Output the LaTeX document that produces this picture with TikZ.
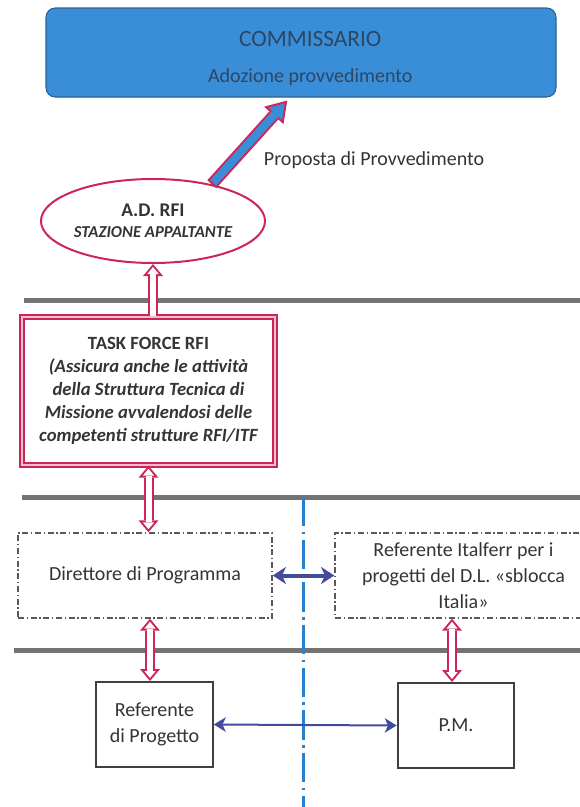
\documentclass[tikz,border=0pt]{standalone}
\usepackage{fontspec}
\setmainfont{Carlito}
\usepackage{tikz}
\usetikzlibrary{arrows, arrows.meta, shapes, positioning, calc}
\definecolor{rfipink}{RGB}{204,38,88}
\definecolor{commblue}{RGB}{58,142,216}
\definecolor{commtext}{RGB}{45,70,100}
\definecolor{linkblue}{RGB}{66,76,158}
\definecolor{axisblue}{RGB}{38,128,210}
\definecolor{txtgray}{RGB}{52,52,52}
\tikzset{
         mycomm/.style={draw=commblue!70!black, fill=commblue, rounded corners=7pt, line width=0.8pt, minimum width=382.5pt, minimum height=66.75pt},
         mycommtxt/.style={text=commtext, align=center, font=\fontsize{15}{27}\selectfont},
         myell/.style={ellipse, draw=rfipink, line width=1.5pt, minimum width=150pt, minimum height=63pt, inner sep=0pt, align=center, text=txtgray, font=\fontsize{14.5}{16}\selectfont\bfseries},
         mytask/.style={draw=rfipink, double=rfipink!30, double distance=2pt, line width=1.1pt, minimum width=189.75pt, minimum height=111pt, align=center, text=txtgray, font=\fontsize{14}{17.25}\selectfont\bfseries},
         mydash/.style={draw=black!65, line width=1.1pt, dash pattern=on 4.5pt off 2pt on 1pt off 2pt, minimum height=63.75pt, align=center, text=txtgray, font=\fontsize{15}{19.5}\selectfont},
         mybox/.style={draw=black!75, line width=1.5pt, minimum width=87.5pt, minimum height=63.75pt, align=center, text=txtgray, font=\fontsize{15}{19}\selectfont},
         mysep/.style={draw=black!55, line width=3.75pt},
         myaxis/.style={draw=axisblue, line width=2.25pt, dash pattern=on 22pt off 4pt on 2pt off 4pt}
      }

\begin{document}
\begin{tikzpicture}[x=0.75pt, y=-0.75pt, thick, >=stealth', auto]
                  \tikzstyle{fat} = [draw=rfipink, line width=9pt, -{Triangle[length=15pt,width=19.5pt,line width=0pt]},
                                     postaction={draw=commblue, line width=6pt, shorten >=2.75pt, shorten <=1.5pt, -{Triangle[length=10.75pt,width=14pt,line width=0pt]}}]
                  \tikzstyle{hollow} = [draw=rfipink, line width=7.5pt, -{Triangle[length=9pt,width=15pt,line width=0pt]},
                                     postaction={draw=white, line width=4.5pt, shorten >=2.3pt, -{Triangle[length=5.2pt,width=8.6pt,line width=0pt]}}]
                  \tikzstyle{hollowboth} = [draw=rfipink, line width=7.5pt, {Triangle[length=9pt,width=15pt,line width=0pt]}-{Triangle[length=9pt,width=15pt,line width=0pt]},
                                     postaction={draw=white, line width=4.5pt, shorten >=2.3pt, shorten <=2.3pt, {Triangle[length=5.2pt,width=8.6pt,line width=0pt]}-{Triangle[length=5.2pt,width=8.6pt,line width=0pt]}}]
                  \tikzstyle{link} = [draw=linkblue, line width=3pt, {Stealth[length=10pt,width=13pt,inset=3pt,line width=0pt]}-{Stealth[length=10pt,width=13pt,inset=3pt,line width=0pt]}]
                  \tikzstyle{thinlink} = [draw=linkblue, line width=1.5pt, {Stealth[length=9pt,width=11pt,inset=2.5pt,line width=0pt]}-{Stealth[length=9pt,width=11pt,inset=2.5pt,line width=0pt]}]
                     \clip (0,0) rectangle (580,807);
                     % separators
                     \draw[mysep] (24,300) -- (580,300);
                     \draw[mysep] (22,497) -- (580,497);
                     \draw[mysep] (14,650) -- (580,650);
                     \draw[myaxis] (303,497) -- (303,807);
                     % nodes
                     \node[mycomm, label={[mycommtxt, xshift=7pt, yshift=-4.9pt]center:{{\fontsize{17.5}{27}\selectfont COMMISSARIO}\\Adozione provvedimento}}] (comm) at (301,52.5) {};
                     \node[myell] (adrfi) at (153,221) {A.D. RFI\\{\fontsize{12.5}{16}\selectfont\itshape STAZIONE APPALTANTE}};
                     \node[anchor=west, text=txtgray, font=\fontsize{15}{18}\selectfont] (propl) at (259,160) {Proposta di Provvedimento};
                     \node[mytask] (task) at (148.5,391) {TASK FORCE RFI\\\itshape(Assicura anche le attività\\\itshape della Struttura Tecnica di\\\itshape Missione avvalendosi delle\\\itshape competenti strutture RFI/ITF};
                     \node[mydash, minimum width=190.5pt] (dirprog) at (145,575.5) {Direttore di Programma};
                     \node[mydash, minimum width=192.75pt] (refitf) at (463.5,575.5) {Referente Italferr per i\\progetti del D.L. «sblocca\\Italia»};
                     \node[mybox] (refprog) at (154.5,724.5) {Referente\\di Progetto};
                     \node[mybox] (pm) at (456,725.5) {P.M.};
                     % connectors
                     \path[fat] (adrfi.32) -- ($(comm.south west)!0.473!(comm.south east)+(0,3)$);
                     \path[hollow] (adrfi.south |- task.north) -- (adrfi.south);
                     \path[hollowboth] (task.south) -- (task.south |- dirprog.north);
                     \path[hollowboth] ([xshift=3.75pt]dirprog.south) -- ([xshift=3.75pt]dirprog.south |- refprog.north);
                     \path[hollowboth] ([xshift=-3pt]pm.north |- refitf.south) -- ([xshift=-3pt]pm.north);
                     \path[link] (dirprog.east) -- (refitf.west);
                     \path[thinlink] (refprog.east) -- (pm.west);
               \end{tikzpicture}
\end{document}
